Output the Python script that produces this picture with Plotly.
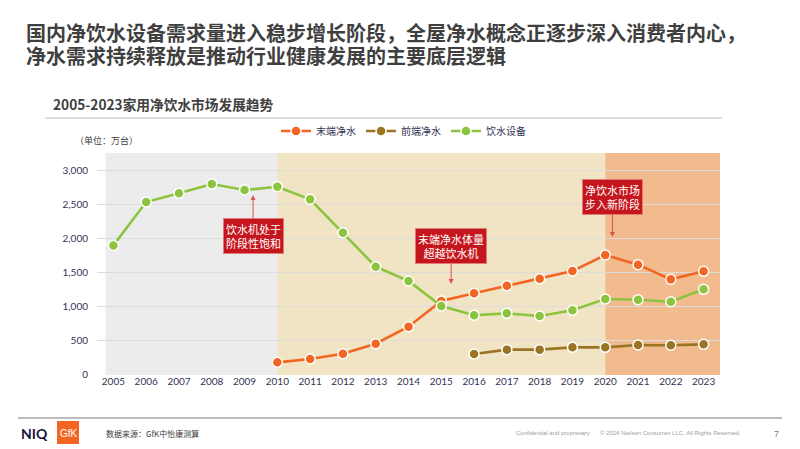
import plotly.graph_objects as go

years = list(range(2005, 2024))
years_terminal = list(range(2010, 2024))
years_front = list(range(2016, 2024))

drinking = [1900, 2540, 2670, 2806, 2718, 2767, 2580, 2087, 1585, 1374, 1004, 867, 896, 857, 941, 1108, 1098, 1068, 1251]
terminal = [172, 221, 300, 448, 699, 1078, 1192, 1305, 1408, 1521, 1758, 1615, 1398, 1517]
front = [295, 360, 360, 394, 394, 428, 425, 438]

y_ticks = [0, 500, 1000, 1500, 2000, 2500, 3000]
y_labels = ["0", "500", "1,000", "1,500", "2,000", "2,500", "3,000"]

FONT = "Noto Sans CJK SC, Lato, sans-serif"
ORANGE = "#f26522"
BROWN = "#9a7422"
GREEN = "#8cc43f"

# page body has an 8px margin: work in figure coords = window coords - 8
OFF = 8
W, H = 800 - OFF, 449 - OFF
L, R, T, B = 97 - OFF, 720 - OFF, 153 - OFF, 374 - OFF

def px(xp):
    return (xp - OFF - L) / (R - L)

def py(yp):
    return (B - (yp - OFF)) / (B - T)

fig = go.Figure()

def add_series(x, y, name, color):
    fig.add_trace(go.Scatter(
        x=x, y=y, name=name, mode="lines+markers",
        line=dict(color=color, width=2.6),
        marker=dict(color=color, size=10, line=dict(color="white", width=1.5)),
        hoverinfo="skip",
    ))

add_series(years_terminal, terminal, "末端净水", ORANGE)
add_series(years_front, front, "前端净水", BROWN)
add_series(years, drinking, "饮水设备", GREEN)

shapes = [
    dict(type="rect", xref="x", yref="paper", x0=2004.76, x1=2010, y0=py(375), y1=1,
         fillcolor="#ececec", line=dict(width=0), layer="below"),
    dict(type="rect", xref="x", yref="paper", x0=2010, x1=2020, y0=py(375), y1=1,
         fillcolor="#f1e4c4", line=dict(width=0), layer="below"),
    dict(type="rect", xref="x", yref="paper", x0=2020, x1=2023.8, y0=py(375), y1=1,
         fillcolor="#f1bb8d", line=dict(width=0), layer="below"),
    dict(type="line", xref="paper", yref="paper", x0=px(45), x1=px(722), y0=py(118), y1=py(118),
         line=dict(color="#d0d0d0", width=1.5)),
    dict(type="line", xref="paper", yref="paper", x0=px(18), x1=px(782), y0=py(418), y1=py(418),
         line=dict(color="#a6a6a6", width=1.5)),
    dict(type="rect", xref="paper", yref="paper", x0=px(57), x1=px(79), y0=py(444), y1=py(421),
         fillcolor="#f26522", line=dict(width=0)),
]

annotations = []

def callout(x, y, text, ay):
    annotations.append(dict(
        x=x, y=y, xref="x", yref="y", text=text, showarrow=True,
        ax=0, ay=ay, arrowhead=2, arrowsize=1, arrowwidth=1, arrowcolor="#d9534f",
        bgcolor="#c5161d", bordercolor="#e27a7a", borderwidth=1, borderpad=2,
        font=dict(family=FONT, size=11, color="white"), align="center",
    ))

callout(2009.26, 2644, "饮水机处于<br>阶段性饱和", 41)
callout(2015.30, 1329, "末端净水体量<br>超越饮水机", -38)
callout(2020.22, 2024, "净饮水市场<br>步入新阶段", -40)

def ptext(x, y, text, size, color, bold=False, xanchor="left", family=FONT):
    annotations.append(dict(
        x=px(x), y=py(y), xref="paper", yref="paper", xanchor=xanchor, yanchor="middle",
        text=("<b>%s</b>" % text) if bold else text, showarrow=False,
        font=dict(family=family, size=size, color=color),
    ))

ptext(24, 33, "国内净饮水设备需求量进入稳步增长阶段，全屋净水概念正逐步深入消费者内心，", 20, "#3f3f3f", bold=True)
ptext(24, 55, "净水需求持续释放是推动行业健康发展的主要底层逻辑", 20, "#3f3f3f", bold=True)
ptext(51, 104, "2005-2023家用净饮水市场发展趋势", 13.7, "#404040", bold=True)
ptext(73, 140, "（单位：万台）", 9, "#404040")
ptext(19, 433, "NIQ", 14, "#14143c", bold=True, family="Lato, sans-serif")
ptext(58, 433, "GfK", 10, "white", family="Liberation Sans, sans-serif")
ptext(104, 433, "数据来源：GfK中怡康测算", 8, "#404040")
ptext(514, 433, "Confidential and proprietary", 6, "#a0a0a0", family="Liberation Sans, sans-serif")
ptext(598, 433, "© 2024 Nielsen Consumer LLC. All Rights Reserved.", 6, "#a0a0a0", family="Liberation Sans, sans-serif")
ptext(772, 434, "7", 9, "#808080", family="Liberation Sans, sans-serif")

fig.update_layout(
    width=W, height=H,
    margin=dict(l=L, r=W - R, t=T, b=H - B),
    paper_bgcolor="white", plot_bgcolor="rgba(0,0,0,0)",
    font=dict(family=FONT, size=10, color="#333355"),
    showlegend=True,
    legend=dict(orientation="h", x=px(276), y=py(131), xanchor="left", yanchor="middle",
                font=dict(family=FONT, size=10, color="#333355"),
                itemwidth=30, tracegroupgap=0, bgcolor="rgba(0,0,0,0)"),
    shapes=shapes,
    annotations=annotations,
    xaxis=dict(range=[2004.5, 2023.5], tickmode="array", tickvals=years,
               ticktext=[str(y) for y in years], showgrid=False, zeroline=False,
               showline=False, ticks="", tickfont=dict(family="Lato, sans-serif", size=10, color="#333355")),
    yaxis=dict(range=[0, 3265], tickmode="array", tickvals=y_ticks, ticktext=y_labels,
               showgrid=True, gridcolor="#dcdcdc", gridwidth=1, zeroline=False,
               showline=False, ticks="", ticklabelstandoff=8,
               tickfont=dict(family="Lato, sans-serif", size=10, color="#333355")),
)

fig.write_html("out.html")
